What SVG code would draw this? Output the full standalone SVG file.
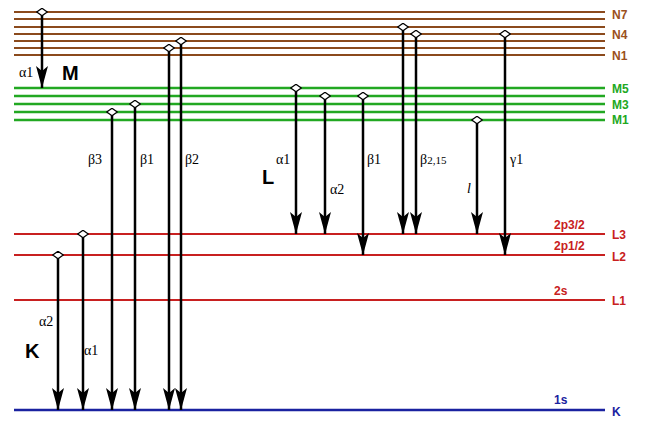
<svg xmlns="http://www.w3.org/2000/svg" width="645" height="429" viewBox="0 0 645 429">
<style>
.n{stroke:#8b4a1c;stroke-width:2}
.m{stroke:#22a822;stroke-width:2.5}
.l{stroke:#c82020;stroke-width:2}
.k{stroke:#1a22a0;stroke-width:2.5}
.a{stroke:#000;stroke-width:2.5;marker-end:url(#ah);marker-start:url(#dm)}
.lb{font-family:"Liberation Sans",Arial,sans-serif;font-weight:bold;font-size:12px}
.g{font-family:"Liberation Serif","Times New Roman",serif;font-size:14px}
.big{font-family:"Liberation Sans",Arial,sans-serif;font-weight:bold;font-size:20px}
</style>
<defs>
<marker id="ah" viewBox="0 0 22 12" refX="22" refY="6" markerWidth="22" markerHeight="12" markerUnits="userSpaceOnUse" orient="auto">
<path d="M0,0 L5,6 L0,12 L22,6 Z" fill="#000"/>
</marker>
<marker id="dm" viewBox="0 0 12 9" refX="6" refY="4.5" markerWidth="12" markerHeight="9" markerUnits="userSpaceOnUse" orient="0">
<path d="M0.7,4.5 L6,0.8 L11.3,4.5 L6,8.2 Z" fill="#fff" stroke="#000" stroke-width="1.3"/>
</marker>
</defs>
<rect width="645" height="429" fill="#fff"/>
<g id="levels">
<line class="n" x1="14" y1="12" x2="605" y2="12"/>
<line class="n" x1="14" y1="19" x2="605" y2="19"/>
<line class="n" x1="14" y1="27" x2="605" y2="27"/>
<line class="n" x1="14" y1="34" x2="605" y2="34"/>
<line class="n" x1="14" y1="41" x2="605" y2="41"/>
<line class="n" x1="14" y1="48" x2="605" y2="48"/>
<line class="n" x1="14" y1="55" x2="605" y2="55"/>
<line class="m" x1="14" y1="88" x2="605" y2="88"/>
<line class="m" x1="14" y1="96" x2="605" y2="96"/>
<line class="m" x1="14" y1="104" x2="605" y2="104"/>
<line class="m" x1="14" y1="112" x2="605" y2="112"/>
<line class="m" x1="14" y1="120" x2="605" y2="120"/>
<line class="l" x1="14" y1="234" x2="605" y2="234"/>
<line class="l" x1="14" y1="255" x2="605" y2="255"/>
<line class="l" x1="14" y1="300" x2="605" y2="300"/>
<line class="k" x1="14" y1="410" x2="605" y2="410"/>
</g>
<g id="level-labels" class="lb">
<text x="612" y="19" fill="#9a5020">N7</text>
<text x="612" y="39" fill="#9a5020">N4</text>
<text x="612" y="60" fill="#9a5020">N1</text>
<text x="612" y="93" fill="#22a822">M5</text>
<text x="612" y="109" fill="#22a822">M3</text>
<text x="612" y="124" fill="#22a822">M1</text>
<text x="612" y="239" fill="#c82020">L3</text>
<text x="612" y="261" fill="#c82020">L2</text>
<text x="612" y="305" fill="#c82020">L1</text>
<text x="612" y="416" fill="#1a22a0">K</text>
<text x="554" y="229" fill="#c82020">2p3/2</text>
<text x="554" y="250" fill="#c82020">2p1/2</text>
<text x="554" y="295" fill="#c82020">2s</text>
<text x="554" y="404" fill="#1a22a0">1s</text>
</g>
<g id="connectors">
<line class="a" x1="42" y1="12" x2="42" y2="88"/>
<line class="a" x1="58" y1="255" x2="58" y2="410"/>
<line class="a" x1="83" y1="234" x2="83" y2="410"/>
<line class="a" x1="112" y1="112" x2="112" y2="410"/>
<line class="a" x1="135" y1="104" x2="135" y2="410"/>
<line class="a" x1="169" y1="48" x2="169" y2="410"/>
<line class="a" x1="181" y1="41" x2="181" y2="410"/>
<line class="a" x1="296" y1="88" x2="296" y2="234"/>
<line class="a" x1="325" y1="96" x2="325" y2="234"/>
<line class="a" x1="363" y1="96" x2="363" y2="255"/>
<line class="a" x1="403" y1="27" x2="403" y2="234"/>
<line class="a" x1="416" y1="34" x2="416" y2="234"/>
<line class="a" x1="477" y1="120" x2="477" y2="234"/>
<line class="a" x1="505" y1="34" x2="505" y2="255"/>
</g>
<g id="labels">
<text class="g" x="19" y="77">α1</text>
<text class="big" x="62" y="80">M</text>
<text class="g" x="88" y="164">β3</text>
<text class="g" x="140" y="164">β1</text>
<text class="g" x="185" y="164">β2</text>
<text class="big" x="262" y="184">L</text>
<text class="g" x="276" y="164">α1</text>
<text class="g" x="330" y="194">α2</text>
<text class="g" x="367" y="164">β1</text>
<text class="g" x="420" y="164">β<tspan font-size="11">2,15</tspan></text>
<text class="g" x="467" y="193" font-style="italic">l</text>
<text class="g" x="510" y="164">γ1</text>
<text class="g" x="39" y="326">α2</text>
<text class="big" x="25" y="358">K</text>
<text class="g" x="84" y="355">α1</text>
</g>
</svg>
